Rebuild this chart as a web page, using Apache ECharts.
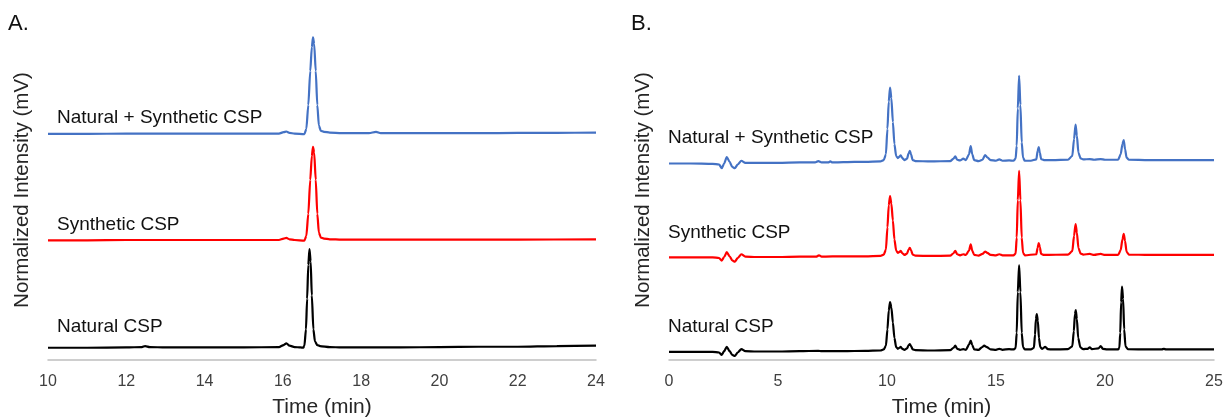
<!DOCTYPE html>
<html>
<head>
<meta charset="utf-8">
<script src="https://cdn.jsdelivr.net/npm/echarts@6/dist/echarts.min.js"></script>
<style>
html,body{margin:0;padding:0;background:#fff;}
#chart{width:1229px;height:417px;}
</style>
</head>
<body>
<div id="chart"></div>
<script>
// ---- Data (time in min, normalized intensity with display offsets) ----
const ticksA = [10, 12, 14, 16, 18, 20, 22, 24];
const ticksB = [0, 5, 10, 15, 20, 25];
const traceNames = ["Natural + Synthetic CSP", "Synthetic CSP", "Natural CSP"];
const traceColors = ["#4472C4", "#FF0000", "#000000"];
const panelLabels = ["A.", "B."];

const naturalSyntheticA = [[10,66.5],[11,66.5],[12,66.6],[13,66.6],[14,66.6],[15,66.6],[15.9,66.6],[16.02,67.0],[16.09,67.2],[16.17,66.8],[16.3,66.6],[16.55,66.4],[16.6,68],[16.65,75],[16.7,85],[16.74,92],[16.77,94.9],[16.8,93],[16.84,85],[16.88,75],[16.92,69],[16.97,67.4],[17.05,67.1],[17.2,66.9],[17.5,66.7],[18.2,66.7],[18.38,67.1],[18.5,66.7],[19,66.7],[20,66.7],[21,66.7],[22,66.8],[23,66.8],[24,66.9]];
const syntheticA = [[10,35.2],[11,35.2],[12,35.3],[13,35.3],[14,35.3],[15,35.3],[15.9,35.3],[16.02,35.7],[16.09,35.9],[16.17,35.5],[16.3,35.3],[16.55,35.1],[16.6,36.5],[16.65,43],[16.7,53],[16.74,60],[16.77,62.7],[16.8,61],[16.84,53],[16.88,43],[16.92,37.5],[16.97,36.0],[17.05,35.7],[17.2,35.5],[17.5,35.4],[19,35.4],[20,35.4],[22,35.4],[24,35.5]];
const naturalA = [[10,3.6],[11,3.6],[12,3.7],[12.4,3.8],[12.48,4.1],[12.6,3.8],[13,3.7],[14,3.7],[15,3.7],[15.9,3.8],[16.02,4.4],[16.09,4.9],[16.17,4.2],[16.3,3.8],[16.45,3.7],[16.52,3.6],[16.55,4.2],[16.59,9],[16.62,18],[16.65,28],[16.68,32.6],[16.71,29],[16.74,19],[16.78,9],[16.82,5.5],[16.88,4.4],[16.95,4.1],[17.2,3.8],[17.5,3.7],[18,3.7],[19,3.7],[20,3.8],[21,3.9],[22,3.9],[23,4.1],[24,4.2]];

const naturalSyntheticB = [[0,57.8],[1,57.8],[2,57.7],[2.3,57.5],[2.42,56.4],[2.53,57.8],[2.65,59.7],[2.78,58.3],[2.9,56.8],[3.02,56.4],[3.15,57.5],[3.32,58.6],[3.5,58.0],[4,58.0],[5,58.0],[6,58.1],[6.7,58.1],[6.85,58.5],[7.0,58.1],[7.3,58.1],[7.4,58.4],[7.5,58.1],[8,58.2],[9,58.3],[9.7,58.4],[9.85,58.8],[9.95,60.5],[10.02,68],[10.08,76],[10.14,80.1],[10.2,77],[10.27,70],[10.34,63.5],[10.42,60],[10.5,59.4],[10.57,59.8],[10.63,60.2],[10.7,59.4],[10.8,58.8],[10.92,59.2],[10.99,60.8],[11.05,61.5],[11.1,60.5],[11.18,58.8],[11.3,58.5],[12,58.4],[12.9,58.5],[13.05,59.2],[13.13,59.9],[13.22,58.9],[13.35,58.7],[13.5,59.2],[13.62,58.8],[13.76,60.5],[13.84,62.9],[13.91,60.5],[14.0,58.8],[14.2,58.5],[14.38,58.9],[14.5,60.3],[14.6,59.6],[14.75,58.8],[15.0,58.6],[15.15,59.0],[15.3,58.6],[15.6,58.7],[15.8,58.6],[15.9,59.2],[15.95,63],[16.0,74],[16.06,83.6],[16.12,75],[16.18,64],[16.24,59.5],[16.32,58.6],[16.6,58.6],[16.85,59.0],[16.91,61.5],[16.96,62.6],[17.01,61],[17.07,59.1],[17.2,58.8],[17.6,58.8],[18.3,58.9],[18.5,60],[18.58,65],[18.65,69.2],[18.71,66],[18.78,61],[18.88,59.3],[19.0,59.0],[19.3,59.1],[19.5,58.9],[19.8,59.1],[20.0,58.9],[20.6,58.9],[20.72,60.5],[20.8,63.5],[20.86,64.7],[20.92,62],[20.99,59.5],[21.1,58.9],[22,58.8],[23,58.8],[24,58.8],[25,58.8]];
const syntheticB = [[0,30.2],[1,30.2],[2,30.2],[2.3,30.0],[2.42,29.2],[2.53,30.3],[2.65,31.7],[2.78,30.5],[2.9,29.3],[3.02,28.9],[3.15,30.0],[3.32,31.1],[3.5,30.4],[4,30.3],[5,30.3],[6,30.4],[6.75,30.4],[6.88,30.8],[7.0,30.4],[8,30.5],[9,30.5],[9.7,30.6],[9.85,31.0],[9.95,32.5],[10.02,39],[10.08,45.5],[10.14,48.2],[10.2,46],[10.27,41],[10.34,35.5],[10.42,32.2],[10.5,31.5],[10.57,31.8],[10.63,32.1],[10.7,31.4],[10.8,30.9],[10.92,31.3],[10.99,32.5],[11.05,33.0],[11.1,32.3],[11.18,31],[11.3,30.7],[12,30.6],[12.9,30.7],[13.05,31.4],[13.13,32.1],[13.22,31.1],[13.35,30.8],[13.5,31.1],[13.62,30.9],[13.76,32.2],[13.84,34.0],[13.91,32.2],[14.0,30.9],[14.2,30.7],[14.38,31.2],[14.5,31.9],[14.6,31.5],[14.75,30.9],[15.0,30.8],[15.15,31.1],[15.3,30.8],[15.8,30.8],[15.9,31.3],[15.95,36],[16.0,47],[16.06,55.6],[16.12,47],[16.18,36],[16.24,31.5],[16.32,30.8],[16.85,31.1],[16.91,33.0],[16.96,34.4],[17.01,33.2],[17.07,31.2],[17.2,30.9],[18.3,31.0],[18.5,32],[18.58,36.5],[18.65,40.0],[18.71,37.5],[18.78,33],[18.88,31.3],[19.0,31.0],[19.3,31.2],[19.5,30.9],[19.8,31.2],[20.0,30.9],[20.6,30.9],[20.72,32.3],[20.8,35.5],[20.86,37.1],[20.92,35],[20.99,31.8],[21.1,31.0],[22,30.9],[25,30.9]];
const naturalB = [[0,2.4],[1,2.4],[2,2.4],[2.3,2.2],[2.42,1.5],[2.53,2.6],[2.65,3.9],[2.78,2.6],[2.9,1.5],[3.02,1.2],[3.15,2.2],[3.32,3.2],[3.5,2.6],[4,2.5],[5,2.5],[6,2.6],[6.85,2.7],[7,2.6],[8,2.6],[9,2.7],[9.7,2.8],[9.85,3.1],[9.95,4.2],[10.02,9],[10.08,14.5],[10.14,17.0],[10.2,15.5],[10.27,11],[10.34,6.5],[10.42,3.8],[10.5,3.3],[10.57,3.6],[10.63,3.9],[10.7,3.3],[10.8,3.0],[10.92,3.4],[10.99,4.3],[11.05,4.7],[11.1,4.1],[11.18,3.1],[11.3,2.9],[12,2.8],[12.9,2.9],[13.05,3.6],[13.13,4.2],[13.22,3.3],[13.35,3.0],[13.5,3.2],[13.62,3.0],[13.76,4.5],[13.84,5.7],[13.91,4.4],[14.0,3.1],[14.2,3.0],[14.35,3.7],[14.46,4.2],[14.58,3.8],[14.75,3.1],[15.0,3.0],[15.15,3.3],[15.3,3.0],[15.6,3.2],[15.8,3.1],[15.9,3.5],[15.95,8],[16.0,20],[16.06,27.9],[16.12,20],[16.18,8],[16.24,3.8],[16.32,3.1],[16.6,3.1],[16.74,3.6],[16.79,7.5],[16.83,12],[16.87,13.5],[16.92,11.5],[16.97,6.5],[17.03,3.8],[17.12,3.3],[17.26,3.9],[17.38,3.2],[17.6,3.1],[18.3,3.2],[18.5,4.0],[18.57,8.5],[18.62,13.5],[18.66,14.7],[18.71,12],[18.77,6.5],[18.87,3.7],[19.0,3.2],[19.2,3.3],[19.3,3.7],[19.4,3.2],[19.7,3.4],[19.8,4.1],[19.9,3.3],[20.1,3.1],[20.6,3.1],[20.66,3.6],[20.7,8],[20.74,17],[20.78,21.6],[20.83,18],[20.88,9],[20.94,4],[21.05,3.2],[22,3.1],[22.6,3.1],[22.7,3.3],[22.8,3.1],[25,3.1]];

// ---- Chart ----
const FONT = '"Liberation Sans", Arial, Helvetica, sans-serif';
const chart = echarts.init(document.getElementById('chart'), null, {renderer: 'canvas'});

function xAxisFor(gridIndex, ticks) {
  return {
    type: 'value', gridIndex: gridIndex,
    min: ticks[0], max: ticks[ticks.length - 1], interval: ticks[1] - ticks[0],
    axisLine: {show: true, onZero: false, lineStyle: {color: '#BFBFBF', width: 1.5}},
    axisTick: {show: false}, splitLine: {show: false},
    axisLabel: {fontSize: 16, color: '#404040', margin: 14, fontFamily: FONT},
    name: 'Time (min)', nameLocation: 'middle', nameGap: 37,
    nameTextStyle: {fontSize: 21, color: '#262626', fontFamily: FONT}
  };
}
function yAxisFor(gridIndex) {
  return {
    type: 'value', gridIndex: gridIndex, min: 0, max: 100,
    axisLine: {show: false}, axisTick: {show: false}, axisLabel: {show: false}, splitLine: {show: false},
    name: 'Normalized Intensity (mV)', nameLocation: 'middle', nameGap: 15, nameRotate: 90,
    nameTextStyle: {fontSize: 20.5, color: '#262626', fontFamily: FONT}
  };
}
function lineSeries(idx, data, ci) {
  return {
    type: 'line', xAxisIndex: idx, yAxisIndex: idx, data: data,
    showSymbol: false, symbol: 'none', smooth: 0.25, smoothMonotone: 'x',
    lineStyle: {color: traceColors[ci], width: 2.2}, itemStyle: {color: traceColors[ci]},
    silent: true, z: 3 + ci
  };
}
function txt(text, x, y, size) {
  return {type: 'text', x: x, y: y, silent: true,
    style: {text: text, fontSize: size, fontFamily: FONT, fill: '#111', align: 'left', verticalAlign: 'middle'}};
}

chart.setOption({
  animation: false,
  backgroundColor: '#ffffff',
  grid: [
    {left: 48, right: 633, top: 20, bottom: 57, containLabel: false, outerBoundsMode: 'none'},
    {left: 669, right: 15, top: 20, bottom: 57, containLabel: false, outerBoundsMode: 'none'}
  ],
  xAxis: [xAxisFor(0, ticksA), xAxisFor(1, ticksB)],
  yAxis: [yAxisFor(0), yAxisFor(1)],
  series: [
    lineSeries(0, naturalSyntheticA, 0), lineSeries(0, syntheticA, 1), lineSeries(0, naturalA, 2),
    lineSeries(1, naturalSyntheticB, 0), lineSeries(1, syntheticB, 1), lineSeries(1, naturalB, 2)
  ],
  graphic: [
    txt(panelLabels[0], 8, 24, 22), txt(panelLabels[1], 631, 24, 22),
    txt(traceNames[0], 57, 118, 19), txt(traceNames[1], 57, 225, 19), txt(traceNames[2], 57, 327, 19),
    txt(traceNames[0], 668, 138, 19), txt(traceNames[1], 668, 233, 19), txt(traceNames[2], 668, 327, 19)
  ]
});
</script>
</body>
</html>
